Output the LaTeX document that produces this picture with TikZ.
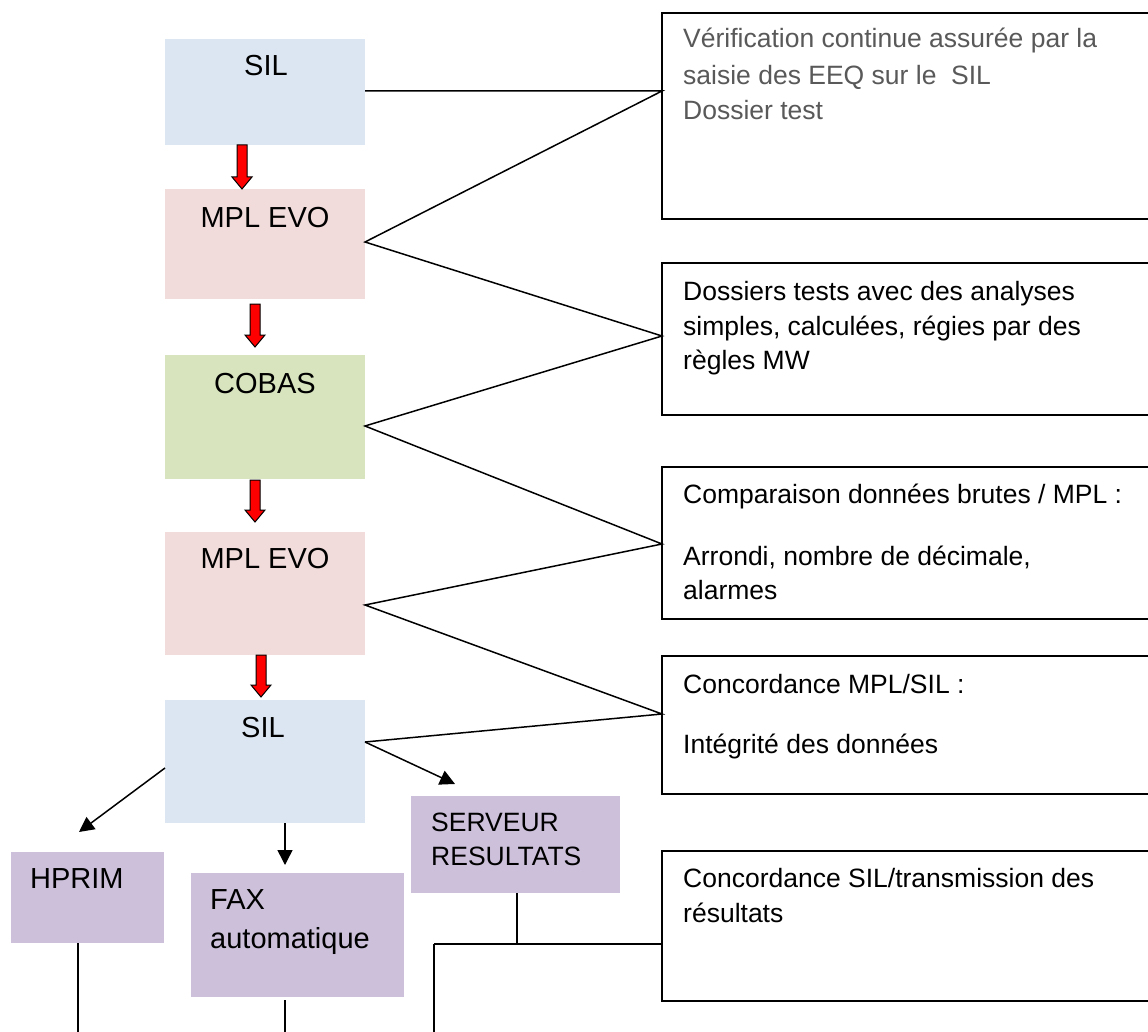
\documentclass[tikz,border=0pt]{standalone}
\usepackage{fontspec}
\setmainfont{Liberation Sans}
\usetikzlibrary{arrows.meta,calc}
\definecolor{silblue}{HTML}{DCE6F2}
\definecolor{mplpink}{HTML}{F2DCDB}
\definecolor{cobasgreen}{HTML}{D7E4BD}
\definecolor{outpurple}{HTML}{CCC0DA}
\definecolor{graytxt}{HTML}{595959}
\newcommand\redarrow[3]{\path[redarr] ({#1-5},#2) -- ({#1+5},#2) -- ({#1+5},{#3-12}) -- ({#1+10},{#3-12}) -- (#1,#3) -- ({#1-10},{#3-12}) -- ({#1-5},{#3-12}) -- cycle;}
\begin{document}
\begin{tikzpicture}[x=1pt,y=-1pt,
  lbox/.style={anchor=north west, inner sep=0pt, outer sep=0pt, draw=none},
  rbox/.style={anchor=north west, inner sep=0pt, outer sep=0pt, draw=black, line width=1.6pt, minimum width=520pt},
  lab/.style={anchor=base, inner sep=0pt, font=\fontsize{29}{35}\selectfont},
  llab/.style={anchor=base west, inner sep=0pt, font=\fontsize{29}{35}\selectfont},
  slab/.style={anchor=base west, inner sep=0pt, font=\fontsize{26.5}{35}\selectfont},
  rtxt/.style={anchor=base west, inner sep=0pt, font=\fontsize{26.5}{35}\selectfont},
  conn/.style={line width=1.5pt},
  arr/.style={line width=1.5pt, -{Triangle[length=15pt,width=15pt]}},
  redarr/.style={fill=red, draw=black, line width=1pt, line join=miter}
]
\clip (0,0) rectangle (1148,1032);
\fill[white] (0,0) rectangle (1148,1032);

% left process boxes
\node[lbox, fill=silblue, minimum width=200pt, minimum height=106pt] (sil1) at (165,39) {};
\node[lab] (sil1t) at (266,76) {SIL};
\node[lbox, fill=mplpink, minimum width=200pt, minimum height=110pt] (mpl1) at (165,189) {};
\node[lab] (mpl1t) at (265,228) {MPL EVO};
\node[lbox, fill=cobasgreen, minimum width=200pt, minimum height=124pt] (cobas) at (165,355) {};
\node[lab] (cobast) at (265,393) {COBAS};
\node[lbox, fill=mplpink, minimum width=200pt, minimum height=123pt] (mpl2) at (165,532) {};
\node[lab] (mpl2t) at (265,568) {MPL EVO};
\node[lbox, fill=silblue, minimum width=200pt, minimum height=123pt] (sil2) at (165,700) {};
\node[lab] (sil2t) at (263,737) {SIL};

% output boxes
\node[lbox, fill=outpurple, minimum width=153pt, minimum height=91pt] (hprim) at (11,852) {};
\node[llab] (hprimt) at (30,888) {HPRIM};
\node[lbox, fill=outpurple, minimum width=213pt, minimum height=124pt] (fax) at (191,873) {};
\node[llab] (faxt1) at (210,909) {FAX};
\node[llab] (faxt2) at (210,948) {automatique};
\node[lbox, fill=outpurple, minimum width=209pt, minimum height=97pt] (serv) at (411,796) {};
\node[slab] (servt1) at (431,831) {SERVEUR};
\node[slab] (servt2) at (431,865) {RESULTATS};

% right comment boxes
\node[rbox, minimum height=206pt] (r1) at (662,13) {};
\node[rtxt, text=graytxt] (r1a) at (683,48) {Vérification continue assurée par la};
\node[rtxt, text=graytxt] (r1b) at (683,85) {saisie des EEQ sur le\ \ SIL};
\node[rtxt, text=graytxt] (r1c) at (683,120) {Dossier test};

\node[rbox, minimum height=152pt] (r2) at (662,263) {};
\node[rtxt] (r2a) at (683,300) {Dossiers tests avec des analyses};
\node[rtxt] (r2b) at (683,335) {simples, calculées, régies par des};
\node[rtxt] (r2c) at (683,369) {règles MW};

\node[rbox, minimum height=152pt] (r3) at (662,467) {};
\node[rtxt] (r3a) at (683,503) {Comparaison données brutes / MPL :};
\node[rtxt] (r3b) at (683,565) {Arrondi, nombre de décimale,};
\node[rtxt] (r3c) at (683,599) {alarmes};

\node[rbox, minimum height=138pt] (r4) at (662,656) {};
\node[rtxt] (r4a) at (683,693) {Concordance MPL/SIL :};
\node[rtxt] (r4b) at (683,753) {Intégrité des données};

\node[rbox, minimum height=150pt] (r5) at (662,851) {};
\node[rtxt] (r5a) at (683,887) {Concordance SIL/transmission des};
\node[rtxt] (r5b) at (683,922) {résultats};

% connection points
\coordinate (p1) at (662,91);
\coordinate (p2) at (662,336);
\coordinate (p3) at (662,544);
\coordinate (p4) at (662,714);
\coordinate (p5) at (662,944);
\coordinate (a1) at (365,91);
\coordinate (a2) at (365,242);
\coordinate (a3) at (365,426);
\coordinate (a4) at (365,605);
\coordinate (a5) at (365,742);
\coordinate (h0) at (165,768);
\coordinate (h1) at (79,832);
\coordinate (f0) at (285,823);
\coordinate (f1) at (285,865);
\coordinate (s1) at (455,784);
\coordinate (j0) at (517,944);
\coordinate (j1) at (434,944);
\coordinate (e1) at (78,1040);
\coordinate (e2) at (285,1040);
\coordinate (e3) at (434,1040);

\draw[conn] (a1) -- (p1) -- (a2) -- (p2) -- (a3) -- (p3) -- (a4) -- (p4) -- (a5);

% red flow arrows
\redarrow{242}{145}{189}
\redarrow{255}{304}{347}
\redarrow{255}{480}{522}
\redarrow{261}{655}{697}

% black arrows
\draw[arr] (h0) -- (h1);
\draw[arr] (f0) -- (f1);
\draw[arr] (a5) -- (s1);

% bottom lines
\draw[conn] (hprim.south -| e1) -- (e1);
\draw[conn] (285,1000) -- (e2);
\draw[conn] (serv.south -| j0) -- (j0);
\draw[conn] (j1) -- (p5);
\draw[conn] (j1) -- (e3);
\end{tikzpicture}
\end{document}
